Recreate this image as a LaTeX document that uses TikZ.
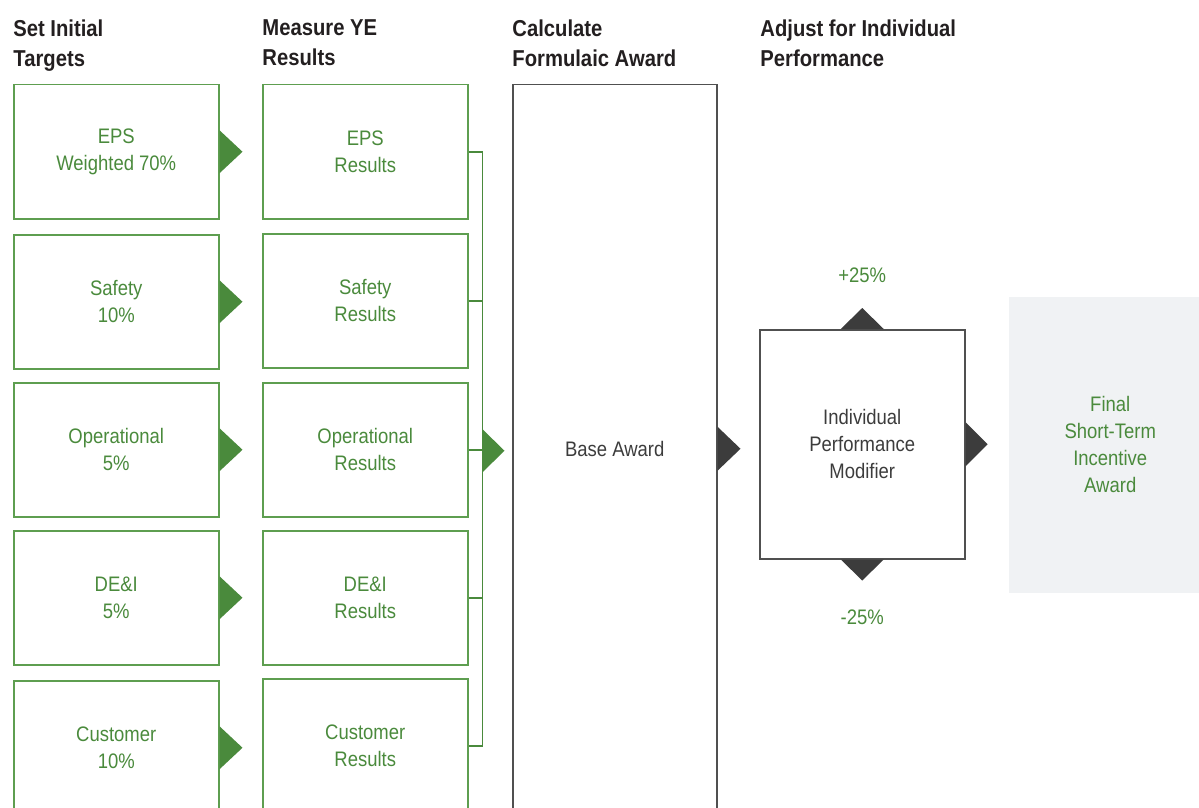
\documentclass[tikz,border=0pt]{standalone}
\usepackage{fontspec}
\setmainfont{Liberation Sans}[FakeStretch=0.88]
\usetikzlibrary{calc}
\definecolor{stgreen}{HTML}{4A8A3C}
\definecolor{stgreenline}{HTML}{5E9E50}
\definecolor{stdark}{HTML}{3C3C3C}
\definecolor{sthead}{HTML}{231F20}
\definecolor{stgray}{HTML}{F0F2F4}

\begin{document}
\begin{tikzpicture}[x=0.5pt,y=0.5pt,
  head/.style={anchor=north west,inner sep=0pt,align=left,text=sthead,font=\fontsize{11.5}{15}\selectfont\bfseries},
  target/.style={draw=stgreenline,line width=0.75pt,anchor=north west,minimum width=102.5pt,minimum height=67pt,align=center,text=stgreen,font=\fontsize{10.5}{13.5}\selectfont},
  award/.style={draw=stdark!90,line width=0.75pt,anchor=north west,align=center,text=stdark,font=\fontsize{10.5}{13.5}\selectfont},
  pct/.style={text=stgreen,font=\fontsize{10.5}{13.5}\selectfont},
  greentip/.style={fill=stgreen},
  darktip/.style={fill=stdark},
  bracket/.style={draw=stgreen,line width=0.75pt}]
\clip (0,0) rectangle (1199,-808);
% headings
\node[head] (h1) at (13,-19) {Set Initial\\Targets};
\node[head] (h2) at (262,-19) {Measure YE\\Results};
\node[head] (h3) at (512,-19) {Calculate\\Formulaic Award};
\node[head] (h4) at (760,-19) {Adjust for Individual\\Performance};
% targets
\node[target] (eps) at (13,-84) {EPS\\Weighted 70\%};
\node[target] (saf) at (13,-234) {Safety\\10\%};
\node[target] (ope) at (13,-382) {Operational\\5\%};
\node[target] (dei) at (13,-530) {DE\&I\\5\%};
\node[target] (cus) at (13,-680) {Customer\\10\%};
% results
\node[target] (epsr) at (262,-84) {EPS\\Results};
\node[target] (safr) at (262,-233) {Safety\\Results};
\node[target] (oper) at (262,-382) {Operational\\Results};
\node[target] (deir) at (262,-530) {DE\&I\\Results};
\node[target] (cusr) at (262,-678) {Customer\\Results};
\fill[greentip] (eps.east) ++(0,21.5) -- ++(23,-21.5) -- ++(-23,-21.5) -- cycle;
\fill[greentip] (saf.east) ++(0,21.5) -- ++(23,-21.5) -- ++(-23,-21.5) -- cycle;
\fill[greentip] (ope.east) ++(0,21.5) -- ++(23,-21.5) -- ++(-23,-21.5) -- cycle;
\fill[greentip] (dei.east) ++(0,21.5) -- ++(23,-21.5) -- ++(-23,-21.5) -- cycle;
\fill[greentip] (cus.east) ++(0,21.5) -- ++(23,-21.5) -- ++(-23,-21.5) -- cycle;
% bracket
\draw[bracket] (epsr.east) -- ++(14,0) coordinate (jtop) |- (cusr.east);
\draw[bracket] (safr.east) -- (safr.east -| jtop);
\draw[bracket] (oper.east) -- (oper.east -| jtop);
\draw[bracket] (deir.east) -- (deir.east -| jtop);
% awards
\node[award,minimum width=102pt,minimum height=364pt] (base) at (512,-84) {Base Award};
\node[award,minimum width=102.5pt,minimum height=114.5pt] (ipm) at (759,-329) {Individual\\Performance\\Modifier};
\node[award,draw=none,fill=stgray,text=stgreen,minimum width=101.5pt,minimum height=148pt] (final) at (1008,-296) {Final\\Short-Term\\Incentive\\Award};
\fill[greentip] ($(base.west -| jtop)+(0,-2)$) ++(0,21.5) -- ++(22,-21.5) -- ++(-22,-21.5) -- cycle;
\fill[darktip] (base.east) ++(0,22) -- ++(23,-22) -- ++(-23,-22) -- cycle;
\fill[darktip] (ipm.east) ++(0,22) -- ++(22,-22) -- ++(-22,-22) -- cycle;
\fill[darktip] (ipm.north) ++(-21.5,0) -- ++(21.5,21) -- ++(21.5,-21) -- cycle;
\fill[darktip] (ipm.south) ++(-21.5,0) -- ++(21.5,-21) -- ++(21.5,21) -- cycle;
\node[pct] (plus) at ($(ipm.north)+(0,54)$) {+25\%};
\node[pct] (minus) at ($(ipm.south)+(0,-58)$) {-25\%};
\end{tikzpicture}
\end{document}
